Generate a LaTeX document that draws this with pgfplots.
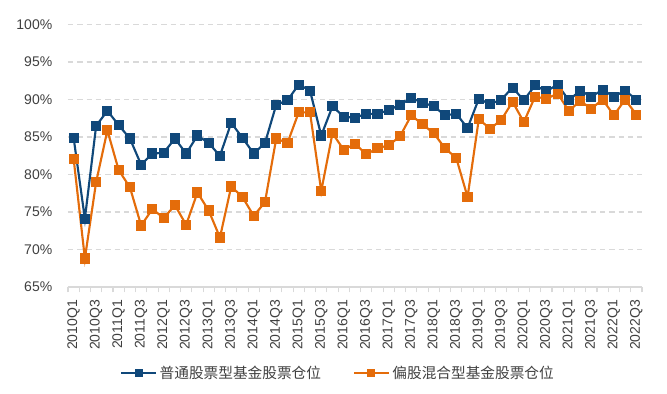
\documentclass[border=0pt]{standalone}
\usepackage{pgfplots}
\pgfplotsset{compat=1.18}
\usepackage{fontspec}
\setmainfont{Liberation Sans}
\newfontfamily\cjk{Noto Sans CJK SC}
\definecolor{cblue}{RGB}{16,72,122}
\definecolor{corange}{RGB}{228,108,10}
\definecolor{gridgray}{RGB}{217,217,217}
\definecolor{txt}{RGB}{64,64,64}
\begin{document}
\begin{tikzpicture}[x=0.75pt,y=0.75pt]
\useasboundingbox (-68,-106) rectangle (599,287);
\begin{axis}[
  at={(0,0)}, anchor=south west,
  scale only axis, width=430.5pt, height=196.8pt,
  xmin=-0.5, xmax=50.5, ymin=65, ymax=100,
  axis lines*=left,
  y axis line style={draw=none},
  x axis line style={draw=gridgray, line width=1.1pt},
  ytick={65,70,...,100},
  yticklabels={65\%,70\%,75\%,80\%,85\%,90\%,95\%,100\%},
  ytick style={draw=none},
  yticklabel style={font=\fontsize{10.5}{12}\selectfont, text=txt, xshift=-4pt},
  xtick={0,2,...,50},
  xticklabels={2010Q1,2010Q3,2011Q1,2011Q3,2012Q1,2012Q3,2013Q1,2013Q3,2014Q1,2014Q3,2015Q1,2015Q3,2016Q1,2016Q3,2017Q1,2017Q3,2018Q1,2018Q3,2019Q1,2019Q3,2020Q1,2020Q3,2021Q1,2021Q3,2022Q1,2022Q3},
  xticklabel style={font=\fontsize{10.5}{12}\selectfont, text=txt, rotate=90, anchor=east, xshift=-2pt},
  major x tick style={draw=none},
  minor xtick={-0.5,0.5,...,50.5},
  minor x tick style={draw=gridgray, line width=0.8pt},
  minor tick length=4pt,
  tick align=outside,
  ymajorgrids,
  major grid style={draw=gridgray, dash pattern=on 4pt off 3pt, line width=0.9pt},
  /pgf/number format/assume math mode=true,
  legend columns=2,
  legend style={draw=none, fill=none, at={(0.471,-0.328)}, anchor=center,
    font=\cjk\fontsize{11}{13}\selectfont, text=txt,
    /tikz/every even column/.append style={column sep=22pt}},
  legend image code/.code={\draw[mark repeat=2,mark phase=2,mark size=2.2pt] plot coordinates {(0pt,0pt)(13pt,0pt)(26pt,0pt)};},
  clip=false,
]
\addplot[cblue, line width=1.6pt, mark=square*, mark size=3pt, mark options={solid}] coordinates {
(0,84.9)(1,74.1)(2,86.5)(3,88.5)(4,86.6)(5,84.8)(6,81.3)(7,82.8)(8,82.9)(9,84.8)
(10,82.8)(11,85.2)(12,84.2)(13,82.5)(14,86.9)(15,84.9)(16,82.8)(17,84.2)(18,89.3)(19,89.9)
(20,92.0)(21,91.2)(22,85.2)(23,89.1)(24,87.7)(25,87.6)(26,88.1)(27,88.1)(28,88.6)(29,89.3)
(30,90.2)(31,89.6)(32,89.1)(33,87.9)(34,88.1)(35,86.2)(36,90.1)(37,89.4)(38,90.0)(39,91.6)
(40,89.9)(41,91.9)(42,91.1)(43,92.0)(44,89.9)(45,91.2)(46,90.4)(47,91.3)(48,90.4)(49,91.2)
(50,90.0)};
\addlegendentry{普通股票型基金股票仓位}
\addplot[corange, line width=1.6pt, mark=square*, mark size=3pt, mark options={solid}] coordinates {
(0,82.1)(1,68.8)(2,79.0)(3,85.9)(4,80.6)(5,78.3)(6,73.2)(7,75.4)(8,74.2)(9,75.9)
(10,73.3)(11,77.6)(12,75.2)(13,71.6)(14,78.4)(15,77.0)(16,74.5)(17,76.3)(18,84.8)(19,84.2)
(20,88.3)(21,88.3)(22,77.8)(23,85.5)(24,83.3)(25,84.1)(26,82.7)(27,83.5)(28,83.9)(29,85.1)
(30,87.9)(31,86.7)(32,85.5)(33,83.5)(34,82.2)(35,77.0)(36,87.4)(37,86.1)(38,87.3)(39,89.7)
(40,87.0)(41,90.4)(42,90.1)(43,90.8)(44,88.5)(45,89.8)(46,88.8)(47,90.0)(48,87.9)(49,90.0)
(50,88.0)};
\addlegendentry{偏股混合型基金股票仓位}
\end{axis}
\end{tikzpicture}
\end{document}
